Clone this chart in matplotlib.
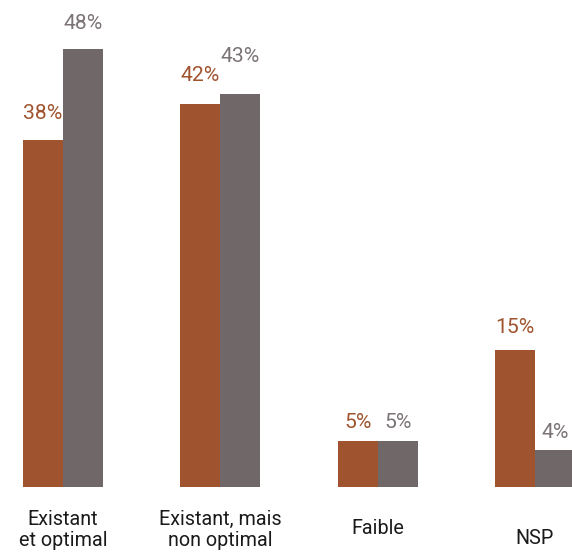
import numpy as np
import matplotlib
matplotlib.use('Agg')
import matplotlib.pyplot as plt

plt.rcParams['font.family'] = ['Roboto', 'DejaVu Sans']

categories = ['Existant\net optimal', 'Existant, mais\nnon optimal', 'Faible', 'NSP']
serie_a = [38, 42, 5, 15]   # brown
serie_b = [48, 43, 5, 4]    # grey

brown = '#a0532f'
grey = '#706769'
grey_txt = '#7b7374'

fig = plt.figure(figsize=(5.72, 5.52), dpi=100)
ax = fig.add_axes([0, 65 / 552, 1, 487 / 552])

x = np.arange(len(categories))
w = 0.254
ax.bar(x - w / 2, serie_a, width=w, color=brown)
ax.bar(x + w / 2, serie_b, width=w, color=grey)

# gap between bar top and label baseline, in points (layout only)
gap_a = [15, 16, 9.5, 12]
gap_b = [14, 23.5, 9.5, 9]
for xi, v, g in zip(x, serie_a, gap_a):
    ax.annotate(f'{v}%', (xi - w / 2, v), xytext=(0, g), textcoords='offset points',
                ha='center', va='baseline', color=brown, fontsize=15.2)
for xi, v, g in zip(x, serie_b, gap_b):
    ax.annotate(f'{v}%', (xi + w / 2, v), xytext=(0, g), textcoords='offset points',
                ha='center', va='baseline', color=grey_txt, fontsize=15.2)

label_dy = [-31, -31, -30, -37]
for lx, lab, dy in zip(x, categories, label_dy):
    ax.annotate(lab, (lx, 0), xytext=(0, dy), textcoords='offset points',
                ha='center', va='center', color='#1a1a1a', fontsize=14.2,
                linespacing=1.15, annotation_clip=False)

ax.set_xlim(-0.4, 3.235)
ax.set_ylim(0, 487 / 9.13)
ax.axis('off')

fig.savefig('out.png', dpi=100)
